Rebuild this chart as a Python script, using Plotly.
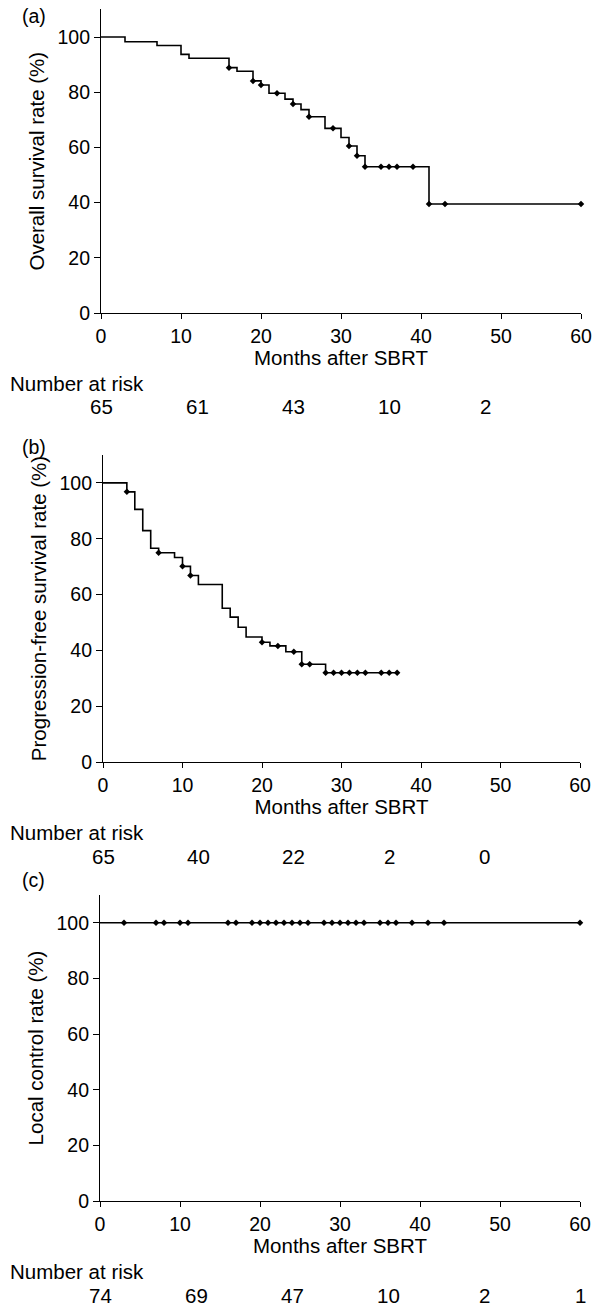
import plotly.graph_objects as go
import numpy as np

W, H = 595, 1307

# ---------------- data ----------------
# (a) Overall survival
os_time = [0, 3, 7, 10, 11, 16, 17, 19, 20, 21, 23, 24, 25, 26, 28, 30, 31, 32, 33, 41, 60]
os_surv = [100, 98.3, 96.9, 93.7, 92.3, 88.9, 87.6, 84.1, 82.6, 79.6, 77.5, 75.7, 73.7, 71.1,
           66.9, 63.6, 60.5, 57.0, 53.0, 39.5, 39.5]
os_censor = [16, 19, 20, 22, 24, 26, 29, 31, 32, 33, 35, 36, 37, 39, 41, 43, 60]

# (b) Progression-free survival
pfs_time = [0, 3, 4, 5, 6, 7, 9, 10, 11, 12, 15, 16, 17, 18, 20, 21, 23, 25, 28, 37]
pfs_surv = [100, 96.8, 90.5, 82.9, 76.6, 75.0, 73.3, 70.1, 66.8, 63.6, 55.1, 51.9, 48.3, 44.8,
            42.9, 41.6, 39.5, 35.0, 32.0, 32.0]
pfs_censor = [3, 7, 10, 11, 20, 22, 24, 25, 26, 28, 29, 30, 31, 32, 33, 35, 36, 37]

# (c) Local control
lc_time = [0, 60]
lc_surv = [100, 100]
lc_censor = [3, 7, 8, 10, 11, 16, 17, 19, 20, 21, 22, 23, 24, 25, 26, 28, 29, 30, 31, 32, 33,
             35, 36, 37, 39, 41, 43, 60]

# Number at risk
risk_months_ab = [0, 12, 24, 36, 48]
risk_a = [65, 61, 43, 10, 2]
risk_b = [65, 40, 22, 2, 0]
risk_months_c = [0, 12, 24, 36, 48, 60]
risk_c = [74, 69, 47, 10, 2, 1]

x_ticks = [0, 10, 20, 30, 40, 50, 60]
y_ticks = [0, 20, 40, 60, 80, 100]

panel_labels = ["(a)", "(b)", "(c)"]
y_titles = ["Overall survival rate (%)", "Progression-free survival rate (%)", "Local control rate (%)"]
x_title = "Months after SBRT"
risk_title = "Number at risk"

# ---------------- layout helpers ----------------
FONT = "Liberation Sans, Arial, Helvetica, sans-serif"
FS_TICK = 19.5
FS_TEXT = 20.5


def px(x):
    return x / W


def py(y):
    return 1 - y / H


def step_value(times, surv, t):
    idx = np.searchsorted(np.array(times), t, side="right") - 1
    return surv[max(idx, 0)]


# pixel geometry of each panel: (x_left, x_right, y_top(110), y_bottom(0), label_y)
panels = [
    (101, 581, 9.4, 313, 16),
    (103, 580, 455, 762, 447),
    (100, 580, 895, 1201, 880),
]

series = [
    (os_time, os_surv, os_censor, risk_months_ab, risk_a),
    (pfs_time, pfs_surv, pfs_censor, risk_months_ab, risk_b),
    (lc_time, lc_surv, lc_censor, risk_months_c, risk_c),
]

fig = go.Figure()
annotations = []

for i, ((xl, xr, yt, yb, ly), (t, s, cens, rm, rv)) in enumerate(zip(panels, series)):
    n = "" if i == 0 else str(i + 1)
    xa, ya = "x" + n, "y" + n
    fig.add_trace(go.Scatter(x=t, y=s, mode="lines", line=dict(shape="hv", color="black", width=1.6),
                             xaxis=xa, yaxis=ya, showlegend=False, hoverinfo="skip", cliponaxis=False))
    cy = [step_value(t, s, c) for c in cens]
    fig.add_trace(go.Scatter(x=cens, y=cy, mode="markers",
                             marker=dict(symbol="diamond", size=5, color="black"),
                             xaxis=xa, yaxis=ya, showlegend=False, cliponaxis=False))
    axis_common = dict(showline=True, linecolor="black", linewidth=1.2, ticks="outside",
                       tickcolor="black", tickwidth=1.2, showgrid=False, zeroline=False,
                       automargin=False,
                       tickfont=dict(family=FONT, size=FS_TICK, color="black"))
    fig.layout["xaxis" + n] = dict(domain=[px(xl), px(xr)], range=[0, 60], tickvals=x_ticks,
                                   anchor=ya, ticklen=5, **axis_common,
                                   title=dict(text=x_title, font=dict(family=FONT, size=FS_TEXT, color="black"),
                                              standoff=0))
    fig.layout["yaxis" + n] = dict(domain=[py(yb), py(yt)], range=[0, 110], tickvals=y_ticks,
                                   anchor=xa, ticklen=6, **axis_common,
                                   title=dict(text=y_titles[i], font=dict(family=FONT, size=FS_TEXT, color="black"),
                                              standoff=7))
    # panel label
    annotations.append(dict(text=panel_labels[i], x=px(20), y=py(ly), xref="paper", yref="paper",
                            xanchor="left", yanchor="middle", showarrow=False,
                            font=dict(family=FONT, size=FS_TICK, color="black")))
    # number at risk
    annotations.append(dict(text=risk_title, x=px(8), y=py(yb + 70), xref="paper", yref="paper",
                            xanchor="left", yanchor="middle", showarrow=False,
                            font=dict(family=FONT, size=FS_TEXT, color="black")))
    for m, v in zip(rm, rv):
        annotations.append(dict(text=str(v), x=m, y=py(yb + 94), xref=xa, yref="paper",
                                xanchor="center", yanchor="middle", showarrow=False,
                                font=dict(family=FONT, size=FS_TEXT, color="black")))

fig.update_layout(width=W, height=H, margin=dict(l=0, r=0, t=0, b=0, autoexpand=False),
                  plot_bgcolor="white", paper_bgcolor="white", annotations=annotations)

fig.write_html("out.html", config={"displayModeBar": False},
               post_script="document.body.style.margin='0';document.body.style.overflow='hidden';")
